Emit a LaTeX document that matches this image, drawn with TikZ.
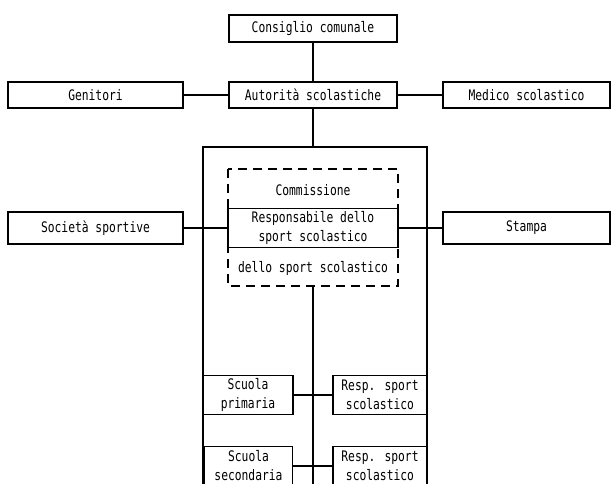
\documentclass[tikz,border=0pt]{standalone}
\usepackage{fontspec}
\setmainfont[FakeStretch=0.78]{DejaVu Sans Mono}
\begin{document}
\begin{tikzpicture}[x=1pt,y=-1pt,
  box/.style={draw,line width=1.4pt,rectangle,inner sep=0pt,align=center,font=\fontsize{14.5}{19}\selectfont},
  txt/.style={inner sep=0pt,align=center,font=\fontsize{14.5}{19}\selectfont},
  conn/.style={line width=1.4pt}]
\useasboundingbox (0,0) rectangle (611,484);
\node[box,minimum width=168pt,minimum height=27pt] (cons) at (313,28.5) {Consiglio comunale};
\node[box,minimum width=175pt,minimum height=26pt] (gen) at (95.5,95) {Genitori};
\node[box,minimum width=168pt,minimum height=26pt] (aut) at (313,95) {Autorità scolastiche};
\node[box,minimum width=167pt,minimum height=26pt] (med) at (526.5,95) {Medico scolastico};
\draw[conn] (cons) -- (aut);
\draw[conn] (gen) -- (aut);
\draw[conn] (aut) -- (med);
% outer box
\draw[line width=1.4pt] (203,500) -- (203,147) -- (427,147) -- (427,500);
\coordinate (outtop) at (313,147);
\draw[conn] (aut) -- (outtop);
% dashed commission box
\draw[line width=1.4pt,dash pattern=on 9pt off 6pt] (228,169) rectangle (398,286);
\node[txt] (comm) at (313,190) {Commissione};
\node[box,minimum width=170pt,minimum height=39pt] (resp) at (313,228) {Responsabile dello\\sport scolastico};
\node[txt] (dello) at (313,268) {dello sport scolastico};
\node[box,minimum width=175pt,minimum height=32pt] (soc) at (95.5,228) {Società sportive};
\node[box,minimum width=167pt,minimum height=32pt] (stampa) at (526.5,228) {Stampa};
\draw[conn] (soc) -- (resp);
\draw[conn] (resp) -- (stampa);
\coordinate (dashbot) at (313,286);
\coordinate (axisend) at (313,500);
\draw[conn] (dashbot) -- (axisend);
% schools
\node[box,minimum width=90pt,minimum height=39pt] (prim) at (248,395) {Scuola\\primaria};
\node[box,minimum width=94pt,minimum height=39pt] (r1) at (380,395) {Resp. sport\\scolastico};
\node[box,minimum width=88pt,minimum height=39pt] (sec) at (248.5,466) {Scuola\\secondaria};
\node[box,minimum width=94pt,minimum height=39pt] (r2) at (380,466) {Resp. sport\\scolastico};
\draw[conn] (prim) -- (r1);
\draw[conn] (sec) -- (r2);
\end{tikzpicture}
\end{document}
